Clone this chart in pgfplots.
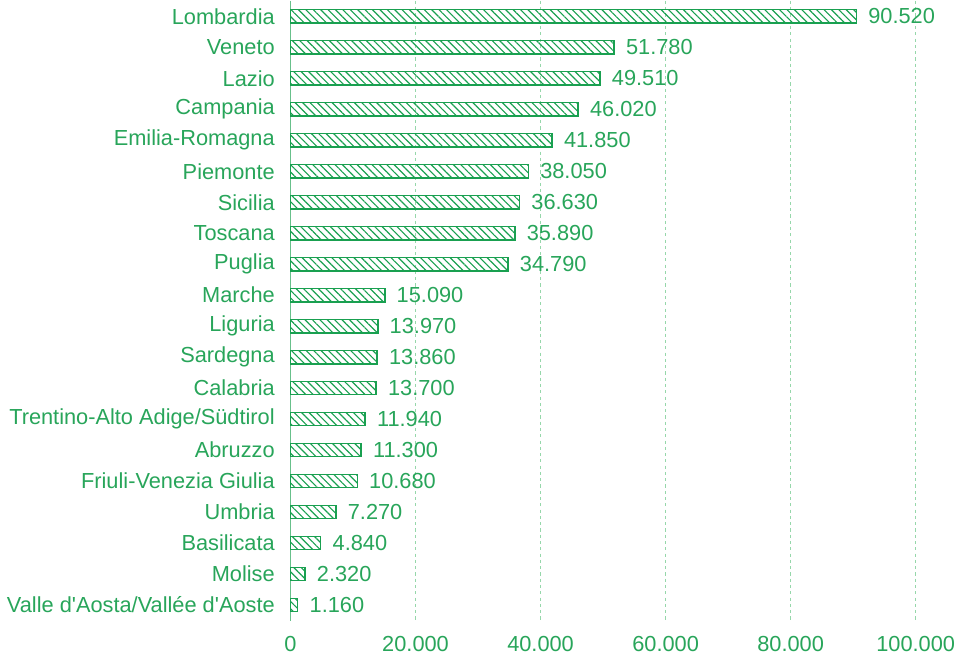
\documentclass[border=0pt]{standalone}
\usepackage{pgfplots}
\pgfplotsset{compat=1.18}
\usepackage{fontspec}
\setmainfont[Ligatures=TeXOff]{Liberation Sans}
\usetikzlibrary{patterns.meta}
\definecolor{tg}{RGB}{40,165,90}
\definecolor{bg}{RGB}{25,160,80}
\definecolor{gg}{RGB}{150,215,170}
\begin{document}
\begin{tikzpicture}
\begin{axis}[
  scale only axis, width=318pt, height=296pt,
  xbar, bar width=6.3pt,
  xmin=0, xmax=106500, ymin=-0.5, ymax=19.5, y dir=reverse,
  ytick={0,...,19},
  yticklabels={Lombardia,Veneto,Lazio,Campania,Emilia-Romagna,Piemonte,Sicilia,Toscana,Puglia,Marche,Liguria,Sardegna,Calabria,{Trentino-Alto Adige/Südtirol},Abruzzo,{Friuli-Venezia Giulia},Umbria,Basilicata,Molise,{Valle d'Aosta/Vallée d'Aoste}},
  xtick={0,20000,40000,60000,80000,100000},
  scaled ticks=false,
  axis x line*=bottom, axis y line*=left,
  x axis line style={draw=none},
  y axis line style={draw=tg!70!white, line width=0.8pt},
  major tick length=0pt,
  xmajorgrids,
  grid style={gg, dash pattern=on 1.5pt off 1.5pt, line width=0.6pt},
  every tick label/.append style={font=\fontsize{10.4}{12}\selectfont, text=tg},
  xticklabel style={yshift=-4pt},
  yticklabel style={xshift=-4pt},
  /pgf/number format/.cd, 1000 sep={.}, fixed, precision=0, assume math mode=true,
  /pgfplots/.cd,
  nodes near coords,
  nodes near coords style={font=\fontsize{10.4}{12}\selectfont, text=tg, xshift=2pt,
    /pgf/number format/.cd, 1000 sep={.}, fixed, precision=0, assume math mode=true},
  clip=false,
]
\addplot[draw=bg, line width=0.7pt, pattern={Lines[angle=-45, distance=2.5pt, line width=0.55pt]}, pattern color=bg]
coordinates {
(90520,0) (51780,1) (49510,2) (46020,3) (41850,4) (38050,5) (36630,6) (35890,7) (34790,8)
(15090,9) (13970,10) (13860,11) (13700,12) (11940,13) (11300,14) (10680,15) (7270,16)
(4840,17) (2320,18) (1160,19)
};
\end{axis}
\end{tikzpicture}
\end{document}
